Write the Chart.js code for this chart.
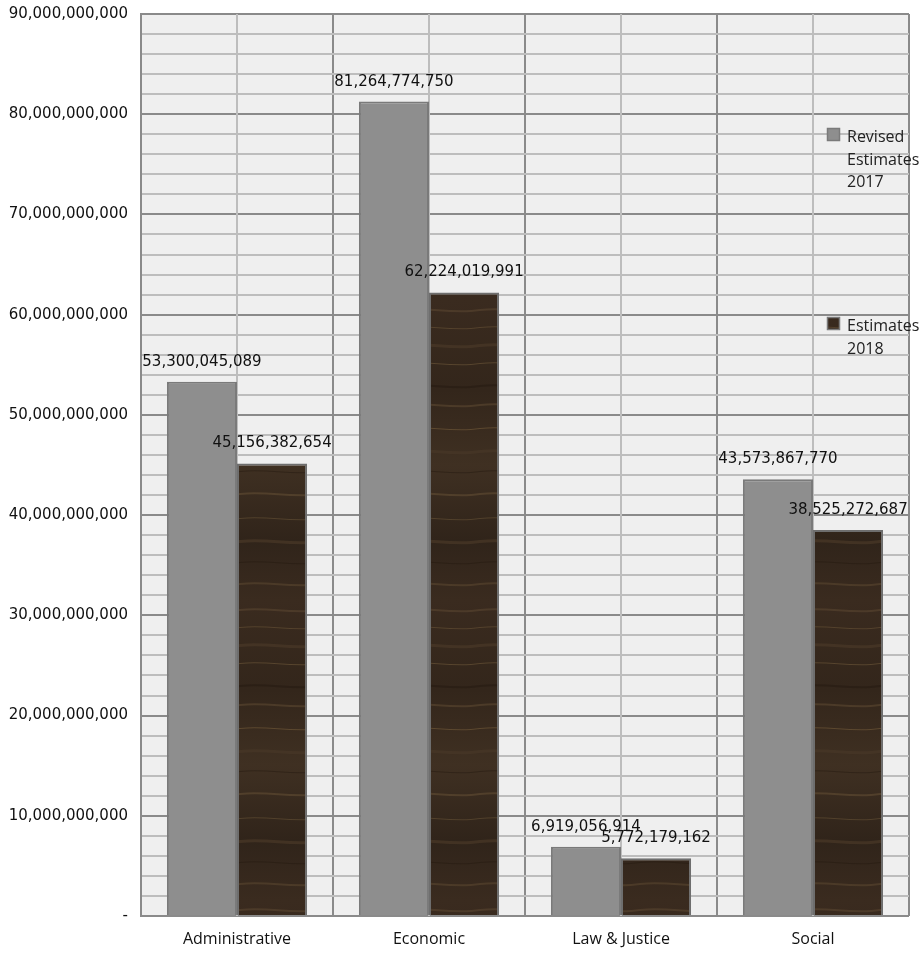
<!DOCTYPE html>
<html>
<head>
<meta charset="utf-8">
<script src="https://cdn.jsdelivr.net/npm/chart.js@4/dist/chart.umd.min.js"></script>
<style>
  html, body { margin: 0; padding: 0; background: #fff; }
  #wrap { width: 922px; height: 954px; position: relative; }
</style>
</head>
<body>
<div id="wrap"><canvas id="bc"></canvas></div>
<script>
'use strict';

// ── Data ─────────────────────────────────────────────────────────────────
const CATEGORIES     = ['Administrative', 'Economic', 'Law & Justice', 'Social'];
const REVISED_2017   = [53300045089, 81264774750, 6919056914, 43573867770];
const ESTIMATES_2018 = [45156382654, 62224019991, 5772179162, 38525272687];
const SERIES_LABELS  = [['Revised', 'Estimates', '2017'], ['Estimates', '2018']];
const Y_MAX  = 90000000000;
const Y_STEP = 2000000000;   // minor gridlines; labels only every 10bn

const NUM_FONT = 'DejaVu Sans';
const TXT_FONT = 'Open Sans';

// Wood-grain fill for the 2018 bars (fixed streaks, purely decorative)
function woodPattern() {
  const c = document.createElement('canvas');
  c.width = 80; c.height = 300;
  const g = c.getContext('2d');
  const base = g.createLinearGradient(0, 0, 0, 300);
  base.addColorStop(0,    '#3a2b1f');
  base.addColorStop(0.3,  '#33261b');
  base.addColorStop(0.55, '#3f3022');
  base.addColorStop(0.8,  '#30241a');
  base.addColorStop(1,    '#3a2b1f');
  g.fillStyle = base;
  g.fillRect(0, 0, c.width, c.height);
  // [y, thickness, colour, alpha]
  const streaks = [
    [9, 2, '#5a4630', 0.6], [27, 1, '#6b5538', 0.55], [44, 3, '#4c3a29', 0.6],
    [63, 1, '#7a6240', 0.5], [85, 2, '#261b12', 0.6], [104, 2, '#5e4a33', 0.55],
    [128, 1, '#806640', 0.5], [150, 3, '#4a3828', 0.6], [171, 1, '#2a1e14', 0.6],
    [193, 2, '#6a5437', 0.5], [218, 1, '#75603f', 0.45], [240, 3, '#4f3c2a', 0.6],
    [262, 1, '#281c13', 0.6], [283, 2, '#5d4832', 0.55],
  ];
  for (const [y, h, col, a] of streaks) {
    g.globalAlpha = a;
    g.fillStyle = col;
    g.beginPath();
    g.moveTo(0, y);
    g.bezierCurveTo(25, y - 3, 55, y + 4, 80, y);
    g.lineTo(80, y + h);
    g.bezierCurveTo(55, y + 4 + h, 25, y - 3 + h, 0, y + h);
    g.closePath();
    g.fill();
  }
  g.globalAlpha = 1;
  return g.createPattern(c, 'repeat');
}

const fmt = v => Math.round(v).toLocaleString('en-US');

// ── Plugins ──────────────────────────────────────────────────────────────
const plotBg = {
  id: 'plotBg',
  beforeDraw(chart) {
    const {ctx, chartArea: a} = chart;
    ctx.save();
    ctx.fillStyle = '#efefef';
    ctx.fillRect(a.left, a.top, a.right - a.left, a.bottom - a.top);
    ctx.restore();
  },
  beforeDatasetsDraw(chart) {
    // lighter vertical line through each category centre
    const {ctx, chartArea: a, scales: {x}} = chart;
    ctx.save();
    ctx.strokeStyle = '#bdbdbd';
    ctx.lineWidth = 2;
    CATEGORIES.forEach((_, i) => {
      const px = Math.round(x.getPixelForValue(i));
      ctx.beginPath();
      ctx.moveTo(px, a.top);
      ctx.lineTo(px, a.bottom);
      ctx.stroke();
    });
    ctx.restore();
  },
};

const valueLabels = {
  id: 'valueLabels',
  afterDatasetsDraw(chart) {
    const {ctx} = chart;
    ctx.save();
    ctx.font = '15px "' + NUM_FONT + '"';
    ctx.fillStyle = '#111';
    ctx.textAlign = 'center';
    ctx.textBaseline = 'alphabetic';
    chart.data.datasets.forEach((ds, di) => {
      chart.getDatasetMeta(di).data.forEach((bar, i) => {
        ctx.fillText(fmt(ds.data[i]), bar.x, bar.y - 16);
      });
    });
    ctx.restore();
  },
};

const sideLegend = {
  id: 'sideLegend',
  afterDraw(chart) {
    const {ctx} = chart;
    const tops = [128, 317];
    ctx.save();
    ctx.font = '16px "' + TXT_FONT + '"';
    ctx.textAlign = 'left';
    ctx.textBaseline = 'alphabetic';
    chart.data.datasets.forEach((ds, di) => {
      const top = tops[di];
      ctx.fillStyle = ds.backgroundColor;
      ctx.fillRect(827, top, 13, 13);
      ctx.strokeStyle = '#7a7a7a';
      ctx.lineWidth = 1.5;
      ctx.strokeRect(827.5, top + 0.5, 12, 12);
      ctx.fillStyle = '#222';
      SERIES_LABELS[di].forEach((line, li) => {
        ctx.fillText(line, 847, top + 14 + li * 22.5);
      });
    });
    ctx.restore();
  },
};

// ── Chart ────────────────────────────────────────────────────────────────
const ctx = document.getElementById('bc').getContext('2d');
const barChart = new Chart(ctx, {
  type: 'bar',
  data: {
    labels: CATEGORIES,
    datasets: [
      {label: 'Revised Estimates 2017', data: REVISED_2017,
       backgroundColor: '#8e8e8e', borderColor: '#7a7a7a', borderWidth: 2},
      {label: 'Estimates 2018', data: ESTIMATES_2018,
       backgroundColor: woodPattern(), borderColor: '#6e6e6e', borderWidth: 2},
    ],
  },
  options: {
    responsive: true,
    maintainAspectRatio: false,
    animation: false,
    devicePixelRatio: 1,
    layout: {padding: {top: 14, right: 13, left: 0, bottom: 0}},
    datasets: {bar: {categoryPercentage: 0.73, barPercentage: 1.0}},
    plugins: {legend: {display: false}, tooltip: {enabled: false}},
    scales: {
      x: {
        offset: true,
        grid: {offset: true, color: '#8a8a8a', lineWidth: 2, drawTicks: false},
        border: {display: false},
        ticks: {color: '#111', padding: 14, font: {family: TXT_FONT, size: 16}},
        afterFit: s => { s.height = 38; },
      },
      y: {
        min: 0, max: Y_MAX,
        grid: {
          drawTicks: false, lineWidth: 2,
          color: c => (Math.round(c.tick.value / 1e9) % 10 === 0 ? '#8a8a8a' : '#bdbdbd'),
        },
        border: {display: true, color: '#8a8a8a', width: 2},
        ticks: {
          stepSize: Y_STEP, autoSkip: false, padding: 13, color: '#111',
          font: {family: NUM_FONT, size: 15},
          callback: v => {
            if (v === 0) return '-';
            return Math.round(v / 1e9) % 10 === 0 ? fmt(v) : '';
          },
        },
        afterFit: s => { s.width = 141; s.paddingTop = 0; s.paddingBottom = 0; },
      },
    },
  },
  plugins: [plotBg, valueLabels, sideLegend],
});
</script>
</body>
</html>
